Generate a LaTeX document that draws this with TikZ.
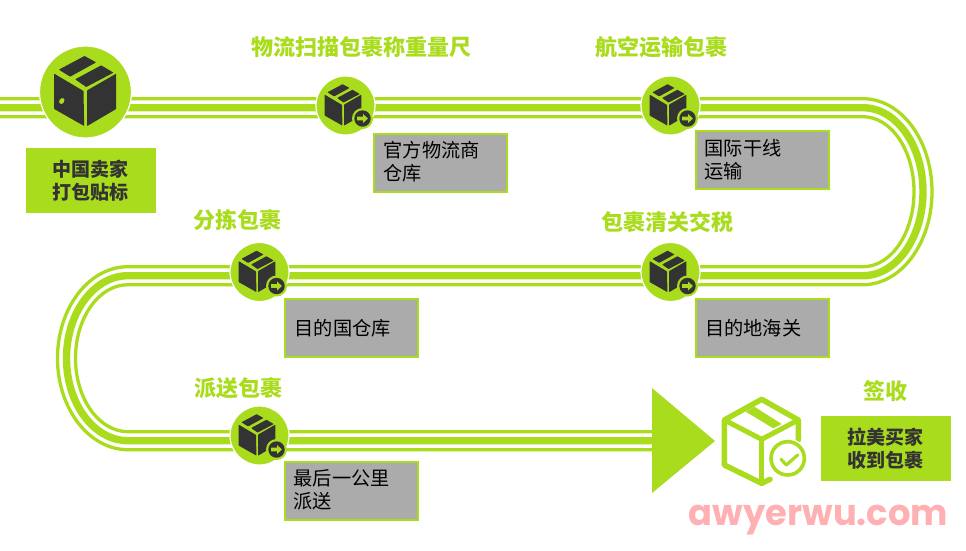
\documentclass[tikz,border=0pt]{standalone}
\usepackage{fontspec}
\setmainfont{Noto Sans CJK SC}
\newfontfamily\wmfont{Poppins}
\definecolor{lime}{HTML}{A9DC1C}
\definecolor{ink}{HTML}{333333}
\definecolor{slab}{HTML}{ABABAB}
\definecolor{wmpink}{HTML}{FFB0B3}
\newcommand{\trackline}[2]{%
  \draw[lime,line width=#2pt] (0,{107.7+#1}) -- (863,{107.7+#1})
    arc[start angle=90,end angle=-90,x radius={(60-(#1))*1pt},y radius={(84-(#1))*1pt}]
    -- (128,{275.7-(#1)})
    arc[start angle=90,end angle=270,x radius={(61.5+(#1))*1pt},y radius={(82.5+(#1))*1pt}]
    -- (652,{440.7+(#1)});}
\newcommand{\darkbox}[3]{%
  \begin{scope}[shift={(#1,#2)},x=#3pt,y=-#3pt]
    \fill[ink,rounded corners=0.5pt] (-94,-55) -- (-6,-3) -- (-4,102) -- (-94,51) -- cycle;
    \fill[ink,rounded corners=0.5pt] (5,-5) -- (92,-55) -- (92,51) -- (5,102) -- cycle;
    \fill[ink,rounded corners=0.5pt] (-80,-67) -- (-3,-108) -- (32,-89) -- (-46,-46) -- cycle;
    \fill[ink,rounded corners=0.5pt] (-31,-38) -- (47,-80) -- (84,-58) -- (2,-15) -- cycle;
  \end{scope}}
\newcommand{\badge}[2]{%
  \begin{scope}[shift={(#1,#2)}]
    \fill[lime] (0,0) circle[radius=10.5pt];
    \fill[ink] (0,0) circle[radius=8.2pt];
    \fill[lime] (-5.5,-1.8) -- (0.5,-1.8) -- (0.5,-4.5) -- (5.5,0) -- (0.5,4.5) -- (0.5,1.8) -- (-5.5,1.8) -- cycle;
  \end{scope}}
\tikzset{
  stopdisc/.style={circle,fill=lime,draw=white,line width=1.2pt,inner sep=0pt,minimum size=59pt},
  stage/.style={font=\bfseries\fontsize{22}{24}\selectfont,text=lime,inner sep=0pt,anchor=center},
  greenbox/.style={fill=lime,inner sep=0pt,minimum width=130pt,minimum height=64.5pt,anchor=north west,
     text=ink,font=\bfseries\fontsize{19}{23}\selectfont,align=center},
  greybox/.style={fill=slab,draw=lime,line width=1.5pt,inner sep=0pt,minimum width=133pt,minimum height=58pt,anchor=north west},
  greytext/.style={font=\fontsize{19.2}{23}\selectfont,text=black,inner sep=0pt,anchor=west,align=left}
}
\begin{document}
\begin{tikzpicture}[x=1pt,y=-1pt]
\useasboundingbox (0,0) rectangle (966,550);
\fill[white] (0,0) rectangle (966,550);
% tracks
\trackline{-9}{3.3}
\trackline{0}{7.4}
\trackline{9}{3.3}
% end triangle
\fill[lime] (652,388) -- (715,441) -- (652,493) -- cycle;
% big stop
\node[stopdisc,minimum size=92pt] (start) at (85.5,92) {};
\darkbox{85.5}{92}{0.3333}
\fill[lime,rotate around={-35:(61.8,101)}] (61.8,101) ellipse[x radius=2.4pt,y radius=3.2pt];
% small stops
\node[stopdisc] (s1) at (345.5,105.5) {};
\node[stopdisc] (s2) at (670.5,105.5) {};
\node[stopdisc] (s3) at (259.5,272) {};
\node[stopdisc] (s4) at (670.5,272) {};
\node[stopdisc] (s5) at (259.5,435.5) {};
\darkbox{343.2}{105.5}{0.197}\badge{362.5}{118.5}
\darkbox{668.2}{105.5}{0.197}\badge{687.5}{118.5}
\darkbox{257.2}{272}{0.197}\badge{276.5}{286}
\darkbox{668.2}{272}{0.197}\badge{687.5}{286}
\darkbox{257.2}{435.5}{0.197}\badge{276.5}{449.5}
% stage titles
\node[stage] (t1) at (361.5,47) {物流扫描包裹称重量尺};
\node[stage] (t2) at (661,47) {航空运输包裹};
\node[stage] (t3) at (237,220) {分拣包裹};
\node[stage] (t4) at (667,222) {包裹清关交税};
\node[stage] (t5) at (238,388) {派送包裹};
\node[stage] (t6) at (885.5,391) {签收};
% green boxes
\node[greenbox] (seller) at (26,148) {\raisebox{-0.7pt}{\hspace{-2pt}中国卖家}\\\raisebox{-0.7pt}{\hspace{-2pt}打包贴标}};
\node[greenbox] (buyer) at (821,416) {\raisebox{-0.7pt}{\hspace{-2pt}拉美买家}\\\raisebox{-0.7pt}{\hspace{-2pt}收到包裹}};
% grey boxes
\node[greybox] (g1) at (373,133) {};
\node[greytext] at (383.5,162) {官方物流商\\仓库};
\node[greybox] (g2) at (695,130) {};
\node[greytext] at (704.5,159.5) {国际干线\\运输};
\node[greybox] (g3) at (284,298) {};
\node[greytext] at (294.5,328) {目的国仓库};
\node[greybox] (g4) at (695,298) {};
\node[greytext] at (705,328) {目的地海关};
\node[greybox] (g5) at (284,461) {};
\node[greytext] at (293.5,489.5) {最后一公里\\派送};
% received parcel outline
\begin{scope}[shift={(715,390)},x=0.3333pt,y=-0.3333pt,line join=round,line cap=round]
  \draw[lime,line width=5.5pt] (250,150) -- (250,90) -- (140,28) -- (28,90) -- (28,225) -- (140,280) -- (165,268);
  \draw[lime,line width=5pt] (32,92) -- (140,148) -- (246,92);
  \draw[lime,line width=5.5pt] (140,148) -- (140,272);
  \fill[lime] (92,65) -- (118,50) -- (200,102) -- (175,115) -- cycle;
  \fill[white] (218,205) circle[radius=60];
  \draw[lime,line width=3.6pt] (218,205) circle[radius=50];
  \draw[lime,line width=3.2pt] (198,208) -- (214,225) -- (248,195);
\end{scope}
% watermark
\node[font=\wmfont\bfseries\fontsize{36}{36}\selectfont,text=wmpink,inner sep=0pt,anchor=center,xscale=0.98] (wm) at (818.5,520.5) {awyerwu.com};
\end{tikzpicture}
\end{document}
